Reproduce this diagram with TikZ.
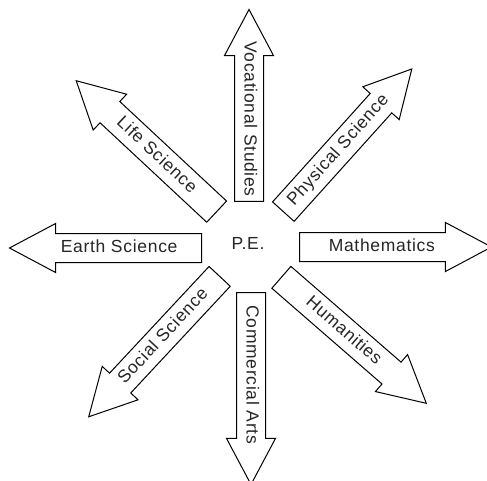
\documentclass[tikz,border=0pt]{standalone}
\usepackage{fontspec}
\setmainfont{Liberation Sans}[LetterSpace=4]
\usetikzlibrary{shapes.arrows}

\tikzset{
  subjarrow/.style={single arrow, draw=black, line width=1pt, fill=white,
    minimum height=192pt, single arrow head extend=10pt,
    single arrow tip angle=56, inner xsep=0pt, inner ysep=5.5pt,
    text height=13pt, text depth=4pt, anchor=tail,
    font=\fontsize{17.5}{20}\selectfont, text=black!85},
  backarrow/.style={subjarrow, shape border rotate=180}
}

\begin{document}
\begin{tikzpicture}[x=1pt,y=1pt]
\useasboundingbox (0,0) rectangle (487,480);
% centre
\node[font=\fontsize{17.5}{20}\selectfont, text=black!85] (pe) at (248,237) {P.E.};
% arrows round it
\node[backarrow] (earth) at (202,232) {Earth Science};
\node[subjarrow] (maths) at (299,233) {Mathematics};
\node[backarrow, rotate=-90] (voc) at (249,278) {Vocational Studies};
\node[subjarrow, rotate=-90] (comm) at (251,188) {Commercial Arts};
\node[subjarrow, rotate=48] (phys) at (283,268) {Physical Science};
\node[backarrow, rotate=-43] (life) at (217,268) {Life Science};
\node[backarrow, rotate=47] (soc) at (220,204) {Social Science};
\node[subjarrow, rotate=-41] (hum) at (281,203) {Humanities};
\end{tikzpicture}
\end{document}
